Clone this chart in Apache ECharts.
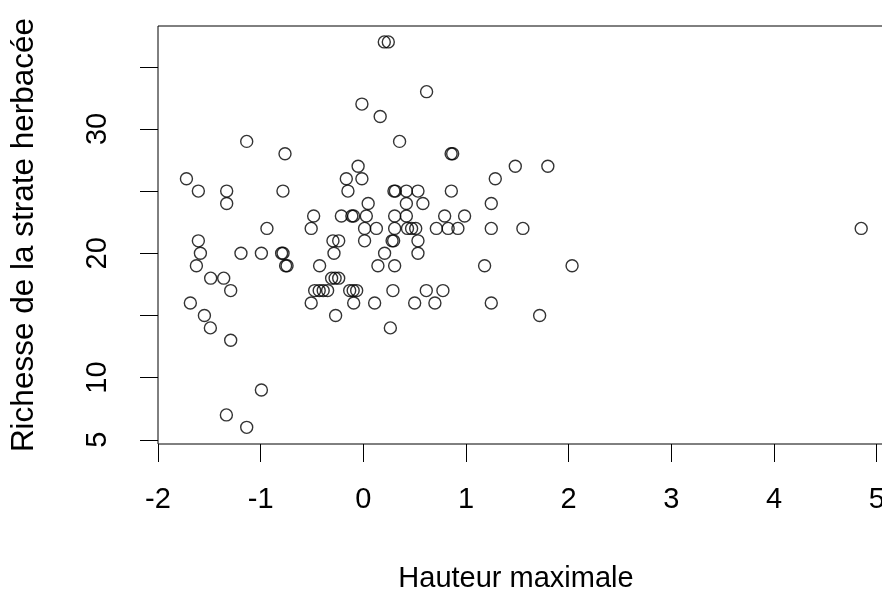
<!DOCTYPE html>
<html>
<head>
<meta charset="utf-8">
<script src="https://cdn.jsdelivr.net/npm/echarts@6/dist/echarts.min.js"></script>
<style>
  html, body { margin: 0; padding: 0; background: #fff; overflow: hidden; }
  /* wider than the window: the plot box runs past the right edge, as in the original */
  #chart { width: 900px; height: 598px; }
</style>
</head>
<body>
<div id="chart"></div>
<script>
// Hauteur maximale (x) and Richesse de la strate herbacée (y), one line per richness level
const hauteur = [
  0.204, 0.243,
  0.616,
  -0.014,
  0.164,
  -1.136, 0.353,
  -0.763, 0.855, 0.870,
  -0.051, 1.480, 1.797,
  -1.723, -0.166, -0.014, 1.285,
  -1.607, -1.331, -0.783, -0.150, 0.298, 0.312, 0.419, 0.532, 0.857,
  -1.331, 0.047, 0.419, 0.580, 1.246,
  -0.484, -0.214, -0.112, -0.095, 0.029, 0.305, 0.419, 0.792, 0.986,
  -0.939, -0.508, 0.012, 0.127, 0.305, 0.430, 0.470, 0.510, 0.711, 0.826, 0.921, 1.246, 1.554, 4.849,
  -1.607, -0.296, -0.240, 0.012, 0.280, 0.295, 0.532,
  -1.587, -1.192, -0.993, -0.796, -0.782, -0.286, 0.207, 0.532,
  -1.626, -0.757, -0.743, -0.426, 0.142, 0.305, 1.181, 2.033,
  -1.487, -1.360, -0.309, -0.275, -0.240,
  -1.292, -0.474, -0.430, -0.391, -0.348, -0.133, -0.099, -0.065, 0.288, 0.613, 0.775,
  -1.685, -0.508, -0.094, 0.110, 0.500, 0.697, 1.246,
  -1.548, -0.270, 1.717,
  -1.490, 0.263,
  -1.292,
  -0.993,
  -1.334,
  -1.136
];
const richesse = [
  37, 37,
  33,
  32,
  31,
  29, 29,
  28, 28, 28,
  27, 27, 27,
  26, 26, 26, 26,
  25, 25, 25, 25, 25, 25, 25, 25, 25,
  24, 24, 24, 24, 24,
  23, 23, 23, 23, 23, 23, 23, 23, 23,
  22, 22, 22, 22, 22, 22, 22, 22, 22, 22, 22, 22, 22, 22,
  21, 21, 21, 21, 21, 21, 21,
  20, 20, 20, 20, 20, 20, 20, 20,
  19, 19, 19, 19, 19, 19, 19, 19,
  18, 18, 18, 18, 18,
  17, 17, 17, 17, 17, 17, 17, 17, 17, 17, 17,
  16, 16, 16, 16, 16, 16, 16,
  15, 15, 15,
  14, 14,
  13,
  9,
  7,
  6
];

const xTicks = [-2, -1, 0, 1, 2, 3, 4, 5];
const yTicks = [5, 10, 15, 20, 25, 30, 35];
const yLabels = [5, 10, 20, 30];

const font = "'Liberation Sans', Arial, sans-serif";

const points = hauteur.map((h, i) => [h, richesse[i]]);

const chart = echarts.init(document.getElementById('chart'));

chart.setOption({
  animation: false,
  backgroundColor: '#fff',
  grid: {
    left: 158,
    top: 26,
    width: 730,
    height: 420,
    show: true,
    borderColor: '#000',
    borderWidth: 1
  },
  xAxis: {
    type: 'value',
    min: -2,
    max: 5.11,
    name: 'Hauteur maximale',
    nameLocation: 'middle',
    nameGap: 120,
    nameTextStyle: { fontFamily: font, fontSize: 29, color: '#000', padding: [0, 14, 0, 0] },
    axisLine: { show: false, onZero: false },
    axisTick: {
      show: true,
      customValues: xTicks,
      length: 18,
      lineStyle: { color: '#000', width: 1 }
    },
    axisLabel: {
      customValues: xTicks,
      margin: 41,
      fontFamily: font,
      fontSize: 29,
      color: '#000'
    },
    splitLine: { show: false }
  },
  yAxis: {
    type: 'value',
    min: 4.66,
    max: 38.28,
    name: 'Richesse de la strate herbacée',
    nameLocation: 'middle',
    nameGap: 118,
    nameTextStyle: { fontFamily: font, fontSize: 31.5, color: '#000' },
    axisLine: { show: false, onZero: false },
    axisTick: {
      show: true,
      customValues: yTicks,
      length: 18,
      lineStyle: { color: '#000', width: 1 }
    },
    axisLabel: {
      customValues: yLabels,
      rotate: 90,
      margin: 46,
      fontFamily: font,
      fontSize: 29,
      color: '#000'
    },
    splitLine: { show: false }
  },
  series: [
    {
      type: 'scatter',
      data: points,
      symbol: 'circle',
      symbolSize: 12,
      itemStyle: {
        color: 'rgba(0,0,0,0)',
        borderColor: '#000',
        borderWidth: 1.4
      },
      emphasis: { disabled: true }
    }
  ]
});
</script>
</body>
</html>
